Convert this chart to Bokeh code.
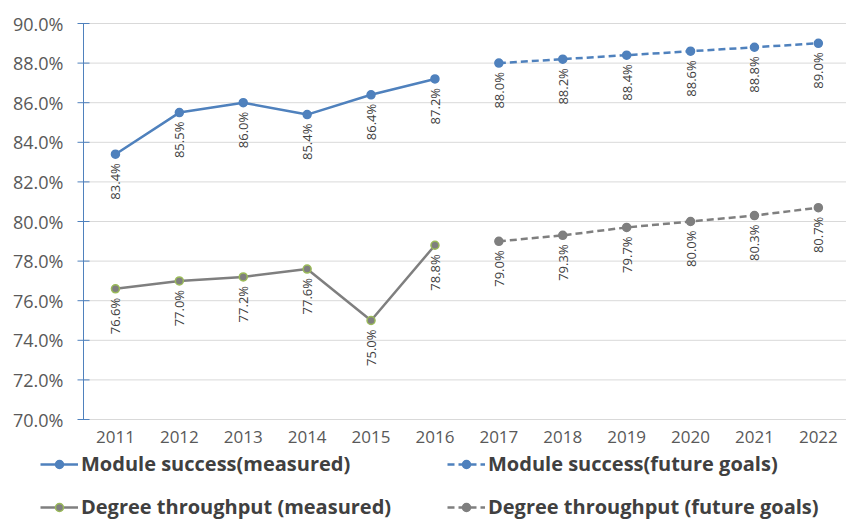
import math
from bokeh.plotting import figure
from bokeh.models import Range1d, Legend, LegendItem
from bokeh.core.properties import value
from bokeh.embed import file_html
from bokeh.resources import INLINE

years_measured = [2011, 2012, 2013, 2014, 2015, 2016]
years_future = [2017, 2018, 2019, 2020, 2021, 2022]
module_measured = [83.4, 85.5, 86.0, 85.4, 86.4, 87.2]
module_future = [88.0, 88.2, 88.4, 88.6, 88.8, 89.0]
degree_measured = [76.6, 77.0, 77.2, 77.6, 75.0, 78.8]
degree_future = [79.0, 79.3, 79.7, 80.0, 80.3, 80.7]
y_ticks = [70, 72, 74, 76, 78, 80, 82, 84, 86, 88, 90]
x_ticks = years_measured + years_future
series_names = ["Module success(measured)", "Module success(future goals)",
                "Degree throughput (measured)", "Degree throughput (future goals)"]

BLUE = "#4F81BD"
GREY = "#7F7F7F"
GREEN = "#9BBB59"
GRID = "#D9D9D9"
AXIS_TEXT = "#595959"
FONT = "Open Sans"

# layout (pixels)
W, H = 846, 520
PLOT_LEFT, PLOT_TOP, PLOT_BOTTOM = 83, 23, 419
PX_PER_YEAR = 63.9

axis_x = years_measured[0] - 0.5          # category boundary where the value axis sits
x_start = axis_x - PLOT_LEFT / PX_PER_YEAR
x_end = x_start + W / PX_PER_YEAR
y_lo, y_hi = y_ticks[0], y_ticks[-1]
px_per_unit = (PLOT_BOTTOM - PLOT_TOP) / (y_hi - y_lo)
y_end = y_hi + PLOT_TOP / px_per_unit
y_start = y_lo - (H - PLOT_BOTTOM) / px_per_unit

p = figure(width=W, height=H, output_backend="svg", toolbar_location=None,
           x_range=Range1d(x_start, x_end), y_range=Range1d(y_start, y_end),
           x_axis_location=None, y_axis_location=None, min_border=0)
p.outline_line_color = None
p.grid.visible = False
p.background_fill_color = "white"

n = len(y_ticks)
# horizontal gridlines
p.segment(x0=[axis_x] * n, y0=y_ticks, x1=[x_end] * n, y1=y_ticks,
          line_color=GRID, line_width=1)
# value axis line + ticks
p.segment(x0=[axis_x], y0=[y_lo], x1=[axis_x], y1=[y_hi], line_color=BLUE, line_width=1)
p.scatter(x=[axis_x] * n, y=y_ticks, marker="dash", size=12, line_color=BLUE, line_width=1)
# value axis labels
p.text(x=[axis_x] * n, y=y_ticks, text=["%.1f%%" % t for t in y_ticks],
       text_align="right", text_baseline="middle", x_offset=-20,
       text_font=value(FONT), text_font_size="18px", text_color=AXIS_TEXT)
# category labels
p.text(x=x_ticks, y=[y_lo] * len(x_ticks), text=[str(t) for t in x_ticks],
       text_align="center", text_baseline="top", y_offset=11,
       text_font=value(FONT), text_font_size="17px", text_color=AXIS_TEXT)

STYLES = [
    dict(color=BLUE, dash="solid", mfill=BLUE, mline=BLUE),
    dict(color=BLUE, dash="7 4", mfill=BLUE, mline=BLUE),
    dict(color=GREY, dash="solid", mfill=GREY, mline=GREEN),
    dict(color=GREY, dash="7 4", mfill=GREY, mline=GREY),
]
DATA = [
    (years_measured, module_measured),
    (years_future, module_future),
    (years_measured, degree_measured),
    (years_future, degree_future),
]

def series(fig, xs, ys, st):
    l = fig.line(xs, ys, line_color=st["color"], line_width=2.5, line_dash=st["dash"])
    s = fig.scatter(xs, ys, size=8, fill_color=st["mfill"], line_color=st["mline"], line_width=1.5)
    txt = ["%.1f%%" % v for v in ys]
    fig.text(x=xs, y=ys, text=txt, angle=math.pi / 2, text_align="right",
             text_baseline="middle", y_offset=9, text_font=value(FONT),
             text_font_size="13px", text_color="#404040")
    return [l, s]

rend = [series(p, xs, ys, st) for (xs, ys), st in zip(DATA, STYLES)]

order = [0, 2, 1, 3]  # legend fills column by column
items = [LegendItem(label=series_names[i], renderers=rend[i]) for i in order]

legend = Legend(items=items, location=(40, 0), ncols=2)
legend.label_text_font = FONT
legend.label_text_font_style = "bold"
legend.label_text_font_size = "20px"
legend.label_text_color = "#404040"
legend.glyph_width = 38
legend.glyph_height = 20
legend.label_height = 26
legend.label_width = 350
legend.label_standoff = 3
legend.spacing = 16
legend.padding = 0
legend.margin = 0
legend.border_line_color = None
legend.background_fill_alpha = 0
p.add_layout(legend, "center")

open("out.html", "w").write(file_html(p, INLINE))
